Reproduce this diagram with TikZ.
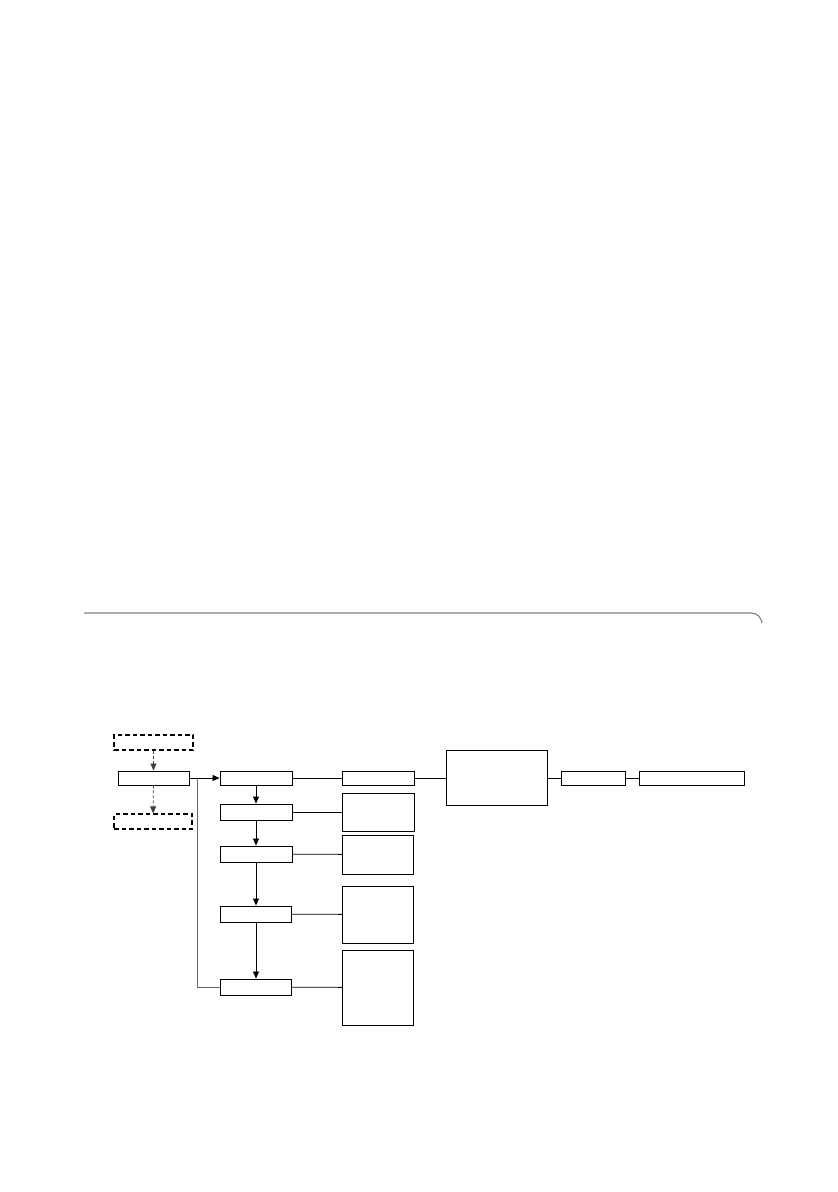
\documentclass[tikz,border=0pt]{standalone}
\usepackage{tikz}
\usetikzlibrary{arrows.meta,positioning,calc}

\begin{document}
\begin{tikzpicture}[x=1pt,y=-1pt,
  box/.style={draw, line width=0.9pt, inner sep=0pt, minimum width=#1},
  dbox/.style={draw, dash pattern=on 4.5pt off 3pt, line width=1.1pt, inner sep=0pt, minimum width=#1, minimum height=15pt},
  arr/.style={-{Triangle[length=7pt,width=6pt]}, line width=0.8pt}]
\useasboundingbox (0,0) rectangle (838,1192);
% rule above the chart
\draw[gray, line width=1.1pt] (84,613) -- (751,613) .. controls (757,613) and (761,617) .. (762,623);
% source and optional boxes
\node[dbox=79pt] (top) at (153.5,742.5) {};
\node[box=71pt, minimum height=14pt] (src) at (153.5,778) {};
\node[dbox=78pt] (bot) at (153,821.5) {};
\draw[arr, dash pattern=on 3pt off 2pt, black!75] (top) -- (src);
\draw[arr, dash pattern=on 3pt off 2pt, black!75] (src) -- (bot);
% main chain
\node[box=72pt, minimum height=14pt] (b1) at (256,778) {};
\node[box=72pt, minimum height=16pt] (b2) at (256,812) {};
\node[box=72pt, minimum height=16pt] (b3) at (256,854) {};
\node[box=71pt, minimum height=16pt] (b4) at (256,914) {};
\node[box=71pt, minimum height=16pt] (b5) at (256,987) {};
\foreach \u/\v in {b1/b2,b2/b3,b3/b4,b4/b5} {
  \draw[arr] (\u) -- (\v);
}
\coordinate (jn) at (197,778);
\draw[line width=0.8pt] (src) -- (jn);
\draw[arr] (jn) -- (b1);
\draw[black!60, line width=0.8pt] (jn) |- (b5);
% side boxes
\node[box=72pt, minimum height=14pt] (c1) at (378,778) {};
\node[box=72pt, minimum height=38pt] (c2) at (378,812) {};
\node[box=71pt, minimum height=39pt] (c3) at (378,854.5) {};
\node[box=71pt, minimum height=57pt] (c4) at (378,914.5) {};
\node[box=71pt, minimum height=75pt] (c5) at (378,987.5) {};
\foreach \i in {1,...,5} {
  \draw[line width=0.8pt] (b\i) -- (c\i);
}
% right part
\node[box=101pt, minimum height=55pt] (d) at (496.5,778) {};
\node[box=64pt, minimum height=14pt] (e) at (593,778) {};
\node[box=105pt, minimum height=14pt] (f) at (691.5,778) {};
\draw[line width=0.8pt] (c1) -- (d);
\draw[line width=0.8pt] (d) -- (e);
\draw[line width=0.8pt] (e) -- (f);
\end{tikzpicture}
\end{document}
